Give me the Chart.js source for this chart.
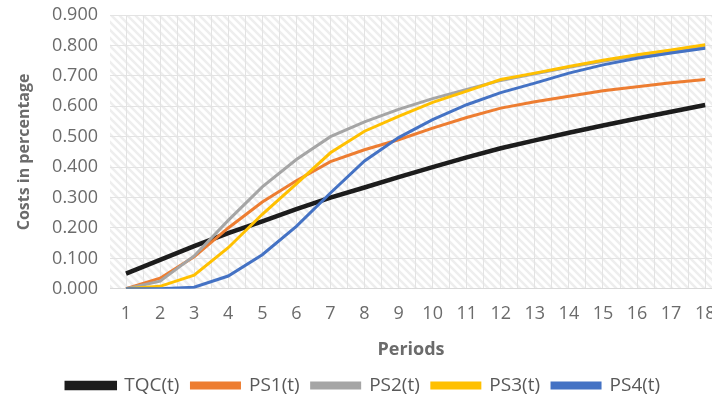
<!DOCTYPE html>
<html>
<head>
<meta charset="utf-8">
<script src="https://cdn.jsdelivr.net/npm/chart.js@4.4.1/dist/chart.umd.min.js"></script>
<style>
  html, body { margin: 0; padding: 0; background: #fff; }
  #wrap { width: 712px; height: 394px; position: relative; }
</style>
</head>
<body>
<div id="wrap"><canvas id="costChart"></canvas></div>
<script>
const periods = [1, 2, 3, 4, 5, 6, 7, 8, 9, 10, 11, 12, 13, 14, 15, 16, 17, 18];
const yTicks = [0, 0.1, 0.2, 0.3, 0.4, 0.5, 0.6, 0.7, 0.8, 0.9];

const tqc = [0.050, 0.095, 0.140, 0.183, 0.222, 0.262, 0.300, 0.333, 0.367, 0.400, 0.432, 0.462, 0.488, 0.513, 0.537, 0.560, 0.582, 0.604];
const ps1 = [0.000, 0.035, 0.105, 0.200, 0.285, 0.355, 0.418, 0.457, 0.490, 0.528, 0.563, 0.594, 0.615, 0.633, 0.651, 0.664, 0.677, 0.688];
const ps2 = [0.000, 0.025, 0.108, 0.225, 0.335, 0.425, 0.500, 0.549, 0.590, 0.625, 0.655, 0.685, 0.707, 0.728, 0.748, 0.766, 0.781, 0.795];
const ps3 = [0.000, 0.008, 0.045, 0.135, 0.245, 0.345, 0.447, 0.518, 0.567, 0.613, 0.650, 0.688, 0.709, 0.731, 0.751, 0.769, 0.785, 0.802];
const ps4 = [0.000, 0.000, 0.005, 0.042, 0.112, 0.205, 0.315, 0.420, 0.497, 0.556, 0.605, 0.645, 0.676, 0.709, 0.736, 0.758, 0.775, 0.791];

// hatched plot background
function makeHatch() {
    const c = document.createElement('canvas');
    c.width = 8;
    c.height = 8;
    const g = c.getContext('2d');
    g.fillStyle = '#ffffff';
    g.fillRect(0, 0, 8, 8);
    g.strokeStyle = '#eeeeee';
    g.lineWidth = 2.5;
    g.beginPath();
    g.moveTo(-2, -2); g.lineTo(10, 10);
    g.moveTo(-10, -2); g.lineTo(2, 10);
    g.moveTo(6, -2); g.lineTo(18, 10);
    g.stroke();
    return c;
}

const hatchPlugin = {
    id: 'hatch',
    beforeDraw(chart) {
        const { ctx, chartArea } = chart;
        ctx.save();
        ctx.fillStyle = ctx.createPattern(makeHatch(), 'repeat');
        ctx.fillRect(chartArea.left, chartArea.top, chartArea.right - chartArea.left, chartArea.bottom - chartArea.top);
        ctx.restore();
    }
};

function series(label, values, color, width, order) {
    return {
        label: label,
        data: values,
        borderColor: color,
        backgroundColor: color,
        borderWidth: width,
        pointRadius: 0,
        tension: 0,
        order: order
    };
}

Chart.defaults.font.family = "'Open Sans', 'Noto Sans', sans-serif";

new Chart(document.getElementById('costChart'), {
    type: 'line',
    data: {
        labels: periods,
        datasets: [
            series('TQC(t)', tqc, '#1c1c1c', 4.5, 5),
            series('PS1(t)', ps1, '#ed7d31', 3, 4),
            series('PS2(t)', ps2, '#a5a5a5', 3, 3),
            series('PS3(t)', ps3, '#ffc000', 3, 2),
            series('PS4(t)', ps4, '#4472c4', 3, 1)
        ]
    },
    options: {
        responsive: true,
        maintainAspectRatio: false,
        animation: false,
        layout: { padding: { top: 15, right: 0, left: 15, bottom: -11 } },
        plugins: {
            tooltip: { enabled: false },
            legend: {
                position: 'bottom',
                labels: {
                    boxWidth: 48,
                    boxHeight: 5,
                    padding: 12,
                    color: '#595959',
                    font: { size: 19 },
                    sort: (a, b) => a.datasetIndex - b.datasetIndex
                }
            }
        },
        scales: {
            x: {
                type: 'linear',
                min: 0.53,
                max: 18.2,
                afterBuildTicks: (scale) => {
                    const t = [];
                    for (let i = 0; i < periods.length; i++) {
                        t.push({ value: periods[i] });
                        t.push({ value: periods[i] + 0.5 });
                    }
                    scale.ticks = t;
                },
                afterFit: (scale) => {
                    scale.paddingLeft = 0;
                    scale.paddingRight = 0;
                },
                grid: { color: '#e3e3e3', drawTicks: false },
                border: { color: '#d9d9d9', width: 1 },
                ticks: {
                    color: '#6b6b6b',
                    font: { size: 18 },
                    padding: 14,
                    autoSkip: false,
                    maxRotation: 0,
                    callback: (v) => Number.isInteger(v) ? String(v) : ''
                },
                title: {
                    display: true,
                    text: 'Periods',
                    color: '#6b6b6b',
                    font: { size: 18, weight: 'bold' },
                    padding: { top: 1, bottom: 3 }
                }
            },
            y: {
                min: 0,
                max: 0.9,
                afterBuildTicks: (scale) => {
                    scale.ticks = yTicks.map(v => ({ value: v }));
                },
                afterFit: (scale) => {
                    scale.width = 95;
                    scale.paddingTop = 0;
                    scale.paddingBottom = 0;
                },
                grid: { color: '#e3e3e3', drawTicks: false },
                border: { display: false },
                ticks: {
                    color: '#6b6b6b',
                    font: { size: 18 },
                    padding: 12,
                    callback: (v) => v.toFixed(3)
                },
                title: {
                    display: true,
                    text: 'Costs in percentage',
                    color: '#6b6b6b',
                    font: { size: 16, weight: 'bold' },
                    padding: { top: 0, bottom: 6 }
                }
            }
        }
    },
    plugins: [hatchPlugin]
});
</script>
</body>
</html>
